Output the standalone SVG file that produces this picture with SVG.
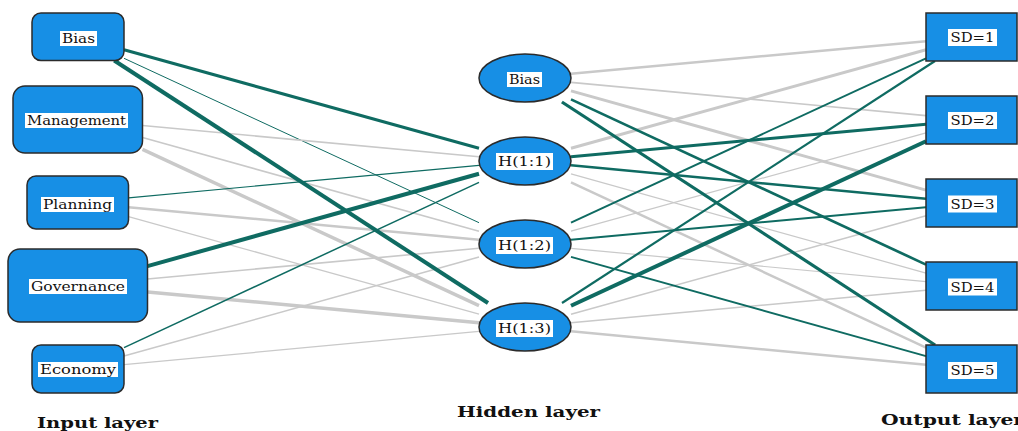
<svg xmlns="http://www.w3.org/2000/svg" width="1018" height="431" viewBox="0 0 1018 431">
  <style>
    .node { fill: #178fe5; stroke: #2b2b2b; stroke-width: 1.5; }
    .tag { fill: #ffffff; }
    .lbl { font-family: "DejaVu Serif", "Liberation Serif", serif; font-size: 12px; fill: #111; text-anchor: middle; }
    .layer { font-family: "DejaVu Serif", "Liberation Serif", serif; font-size: 15px; font-weight: bold; fill: #111; }
    .pos { stroke: #0f6b62; fill: none; }
    .neg { stroke: #c9c9c9; fill: none; }
  </style>

  <!-- weighted connections -->
  <g id="connectors">
    <!-- input layer to hidden layer -->
    <line class="pos" x1="124" y1="49.8" x2="479" y2="148.2" stroke-width="3"/>
    <line class="pos" x1="124" y1="58.3" x2="479" y2="222.7" stroke-width="1"/>
    <line class="neg" x1="142.5" y1="125.5" x2="479" y2="156.7" stroke-width="1.6"/>
    <line class="neg" x1="142.5" y1="137.5" x2="479" y2="231.2" stroke-width="1.6"/>
    <line class="neg" x1="142.5" y1="149.4" x2="479" y2="305.6" stroke-width="3.5"/>
    <line class="pos" x1="128.5" y1="197.8" x2="479" y2="165.3" stroke-width="1.2"/>
    <line class="neg" x1="128.5" y1="207.2" x2="479" y2="239.7" stroke-width="2.5"/>
    <line class="neg" x1="128.5" y1="216.6" x2="479" y2="314.2" stroke-width="1.3"/>
    <line class="neg" x1="147.5" y1="279" x2="479" y2="248.3" stroke-width="1.6"/>
    <line class="neg" x1="147.5" y1="292" x2="479" y2="322.7" stroke-width="3.5"/>
    <line class="pos" x1="147.5" y1="266.1" x2="479" y2="173.8" stroke-width="4"/>
    <line class="pos" x1="124" y1="347.6" x2="479" y2="182.4" stroke-width="1.5"/>
    <line class="neg" x1="124" y1="356.1" x2="479" y2="256.9" stroke-width="1.6"/>
    <line class="neg" x1="124" y1="364.7" x2="479" y2="331.3" stroke-width="1.3"/>
    <line class="pos" x1="114.2" y1="60.5" x2="488" y2="303" stroke-width="4"/>

    <!-- hidden layer to output layer -->
    <line class="neg" x1="571" y1="73.8" x2="926" y2="41.2" stroke-width="2.5"/>
    <line class="neg" x1="571" y1="82.3" x2="926" y2="115.7" stroke-width="1.7"/>
    <line class="neg" x1="571" y1="90.9" x2="926" y2="190.1" stroke-width="3"/>
    <line class="neg" x1="571" y1="148.2" x2="926" y2="49.8" stroke-width="3"/>
    <line class="neg" x1="571" y1="173.9" x2="926" y2="273.1" stroke-width="1.2"/>
    <line class="neg" x1="571" y1="182.4" x2="926" y2="347.6" stroke-width="2.5"/>
    <line class="neg" x1="571" y1="231.2" x2="926" y2="132.8" stroke-width="1.2"/>
    <line class="neg" x1="571" y1="248.3" x2="926" y2="281.7" stroke-width="1.2"/>
    <line class="neg" x1="571" y1="314.2" x2="926" y2="215.8" stroke-width="1.5"/>
    <line class="neg" x1="571" y1="322.8" x2="926" y2="290.2" stroke-width="1.5"/>
    <line class="neg" x1="571" y1="331.3" x2="926" y2="364.7" stroke-width="2.5"/>
    <line class="pos" x1="571" y1="99.4" x2="926" y2="264.6" stroke-width="2.7"/>
    <line class="pos" x1="561.9" y1="102" x2="935.1" y2="345" stroke-width="3.2"/>
    <line class="pos" x1="571" y1="156.8" x2="926" y2="124.2" stroke-width="3"/>
    <line class="pos" x1="571" y1="165.3" x2="926" y2="198.7" stroke-width="2.5"/>
    <line class="pos" x1="571" y1="222.7" x2="926" y2="58.3" stroke-width="2"/>
    <line class="pos" x1="571" y1="239.8" x2="926" y2="207.2" stroke-width="2"/>
    <line class="pos" x1="571" y1="256.9" x2="926" y2="356.1" stroke-width="2"/>
    <line class="pos" x1="562" y1="303" x2="935" y2="61" stroke-width="2.2"/>
    <line class="pos" x1="571" y1="305.7" x2="926" y2="141.3" stroke-width="4"/>
  </g>

  <!-- input layer -->
  <g id="in-bias">
    <rect class="node" x="32" y="13" width="92" height="47.5" rx="9"/>
    <rect class="tag" x="60" y="31" width="37" height="15"/>
    <text class="lbl" x="78.5" y="42.5" textLength="33" lengthAdjust="spacingAndGlyphs">Bias</text>
  </g>
  <g id="in-management">
    <rect class="node" x="13" y="86" width="129.5" height="67" rx="12"/>
    <rect class="tag" x="25" y="113" width="103" height="15"/>
    <text class="lbl" x="76.5" y="124.5" textLength="99" lengthAdjust="spacingAndGlyphs">Management</text>
  </g>
  <g id="in-planning">
    <rect class="node" x="27" y="176" width="101.5" height="53" rx="9"/>
    <rect class="tag" x="41" y="197" width="73" height="15"/>
    <text class="lbl" x="77.5" y="208.5" textLength="69" lengthAdjust="spacingAndGlyphs">Planning</text>
  </g>
  <g id="in-governance">
    <rect class="node" x="8" y="249" width="139.5" height="73" rx="12"/>
    <rect class="tag" x="29" y="279" width="98" height="15"/>
    <text class="lbl" x="78" y="290.5" textLength="94" lengthAdjust="spacingAndGlyphs">Governance</text>
  </g>
  <g id="in-economy">
    <rect class="node" x="32" y="345" width="92" height="48" rx="9"/>
    <rect class="tag" x="38" y="362" width="80" height="15"/>
    <text class="lbl" x="78" y="373.5" textLength="76" lengthAdjust="spacingAndGlyphs">Economy</text>
  </g>

  <!-- hidden layer -->
  <g id="hid-bias">
    <ellipse class="node" cx="525" cy="78" rx="46" ry="24"/>
    <rect class="tag" x="507" y="72" width="35" height="15"/>
    <text class="lbl" x="524.5" y="83.5" textLength="31" lengthAdjust="spacingAndGlyphs">Bias</text>
  </g>
  <g id="hid-h11">
    <ellipse class="node" cx="525" cy="161" rx="46" ry="24"/>
    <rect class="tag" x="496" y="153" width="57" height="17"/>
    <text class="lbl" x="524.5" y="166" textLength="53" lengthAdjust="spacingAndGlyphs">H(1:1)</text>
  </g>
  <g id="hid-h12">
    <ellipse class="node" cx="525" cy="244" rx="46" ry="24"/>
    <rect class="tag" x="496" y="237" width="57" height="17"/>
    <text class="lbl" x="524.5" y="250" textLength="53" lengthAdjust="spacingAndGlyphs">H(1:2)</text>
  </g>
  <g id="hid-h13">
    <ellipse class="node" cx="525" cy="327" rx="46" ry="24"/>
    <rect class="tag" x="496" y="320" width="57" height="17"/>
    <text class="lbl" x="524.5" y="333" textLength="53" lengthAdjust="spacingAndGlyphs">H(1:3)</text>
  </g>

  <!-- output layer -->
  <g id="out-sd1">
    <rect class="node" x="926" y="13" width="91" height="48"/>
    <rect class="tag" x="948" y="29" width="49" height="17"/>
    <text class="lbl" x="972.5" y="42" textLength="44" lengthAdjust="spacingAndGlyphs">SD=1</text>
  </g>
  <g id="out-sd2">
    <rect class="node" x="926" y="96" width="91" height="48"/>
    <rect class="tag" x="948" y="112" width="49" height="17"/>
    <text class="lbl" x="972.5" y="125" textLength="44" lengthAdjust="spacingAndGlyphs">SD=2</text>
  </g>
  <g id="out-sd3">
    <rect class="node" x="926" y="179" width="91" height="48"/>
    <rect class="tag" x="948" y="195.5" width="49" height="17"/>
    <text class="lbl" x="972.5" y="208.5" textLength="44" lengthAdjust="spacingAndGlyphs">SD=3</text>
  </g>
  <g id="out-sd4">
    <rect class="node" x="926" y="262" width="91" height="48"/>
    <rect class="tag" x="948" y="278.5" width="49" height="17"/>
    <text class="lbl" x="972.5" y="291.5" textLength="44" lengthAdjust="spacingAndGlyphs">SD=4</text>
  </g>
  <g id="out-sd5">
    <rect class="node" x="926" y="345" width="91" height="48"/>
    <rect class="tag" x="948" y="362" width="49" height="17"/>
    <text class="lbl" x="972.5" y="375" textLength="44" lengthAdjust="spacingAndGlyphs">SD=5</text>
  </g>

  <!-- layer captions -->
  <text class="layer" x="37" y="428" textLength="121" lengthAdjust="spacingAndGlyphs">Input layer</text>
  <text class="layer" x="457" y="417" textLength="143" lengthAdjust="spacingAndGlyphs">Hidden layer</text>
  <text class="layer" x="881" y="425" textLength="143" lengthAdjust="spacingAndGlyphs">Output layer</text>
</svg>
